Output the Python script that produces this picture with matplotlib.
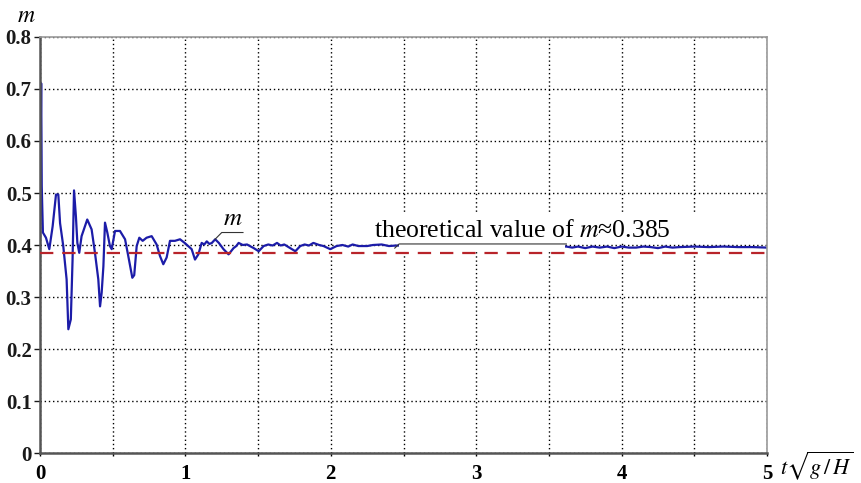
import matplotlib
matplotlib.use("Agg")
import matplotlib.pyplot as plt
from matplotlib.patches import Rectangle

t_vals = [0.000, 0.003, 0.008, 0.012, 0.020, 0.041, 0.064, 0.087, 0.110, 0.126,
          0.138, 0.160, 0.183, 0.195, 0.212, 0.224, 0.234, 0.247, 0.257, 0.270,
          0.286, 0.325, 0.355, 0.378, 0.401, 0.413, 0.424, 0.436, 0.447, 0.463,
          0.481, 0.493, 0.516, 0.550, 0.585, 0.607, 0.635, 0.648, 0.665, 0.683,
          0.706, 0.733, 0.768, 0.802, 0.825, 0.848, 0.871, 0.894, 0.928, 0.963,
          0.995, 1.043, 1.066, 1.089, 1.112, 1.130, 1.147, 1.165, 1.182, 1.205,
          1.230, 1.262, 1.297, 1.331, 1.350, 1.366, 1.395, 1.424, 1.450, 1.470,
          1.504, 1.538, 1.570, 1.600, 1.630, 1.655, 1.680, 1.721, 1.756, 1.790,
          1.820, 1.850, 1.880, 1.920, 1.950, 1.996, 2.040, 2.080, 2.120, 2.150,
          2.190, 2.250, 2.290, 2.350, 2.400, 2.450, 2.700, 3.000, 3.300, 3.620,
          3.660, 3.700, 3.750, 3.800, 3.850, 3.900, 3.950, 4.000, 4.050, 4.100,
          4.150, 4.200, 4.250, 4.300, 4.350, 4.400, 4.500, 4.600, 4.700, 4.800,
          4.900, 5.000]
m_vals = [0.379, 0.545, 0.711, 0.513, 0.424, 0.414, 0.392, 0.436, 0.497, 0.497,
          0.442, 0.398, 0.334, 0.238, 0.257, 0.372, 0.505, 0.455, 0.404, 0.385,
          0.417, 0.449, 0.430, 0.385, 0.334, 0.282, 0.308, 0.359, 0.443, 0.424,
          0.398, 0.392, 0.427, 0.427, 0.411, 0.379, 0.337, 0.342, 0.398, 0.414,
          0.408, 0.414, 0.417, 0.401, 0.379, 0.363, 0.376, 0.408, 0.408, 0.411,
          0.404, 0.392, 0.372, 0.382, 0.404, 0.401, 0.407, 0.402, 0.404, 0.411,
          0.404, 0.392, 0.382, 0.394, 0.398, 0.404, 0.400, 0.401, 0.397, 0.394,
          0.388, 0.398, 0.401, 0.399, 0.404, 0.399, 0.401, 0.394, 0.388, 0.398,
          0.401, 0.399, 0.404, 0.400, 0.398, 0.392, 0.398, 0.400, 0.397, 0.401,
          0.398, 0.398, 0.400, 0.401, 0.398, 0.399, 0.398, 0.397, 0.398, 0.397,
          0.395, 0.397, 0.394, 0.397, 0.395, 0.397, 0.394, 0.397, 0.395, 0.395,
          0.397, 0.396, 0.394, 0.397, 0.395, 0.396, 0.397, 0.396, 0.397, 0.396,
          0.396, 0.395]
m_theory = 0.385

x_ticks = [0, 1, 2, 3, 4, 5]
y_ticks = [0, 0.1, 0.2, 0.3, 0.4, 0.5, 0.6, 0.7, 0.8]
y_labels = ["0", "0.1", "0.2", "0.3", "0.4", "0.5", "0.6", "0.7", "0.8"]

plt.rcParams["font.family"] = "Liberation Serif"
plt.rcParams["mathtext.fontset"] = "stix"

fig = plt.figure(figsize=(8.62, 4.83), dpi=100)
ax = fig.add_axes([0.0464, 0.0621, 0.8434, 0.8613])

ax.plot(t_vals, m_vals, color="#1c1ca8", lw=1.6, zorder=2)
ax.axhline(m_theory, color="#b8242a", lw=1.6, dashes=(6, 4), zorder=5)

ax.set_xlim(0, 5)
ax.set_ylim(0, 0.8)
ax.set_xticks(x_ticks)
ax.set_xticks([0.5, 1.5, 2.5, 3.5, 4.5], minor=True)
ax.set_yticks(y_ticks)
ax.set_yticklabels(y_labels)

ax.grid(True, which="both", color="black", linestyle=(0, (1, 2)), lw=1.0)
ax.tick_params(axis="y", length=4, width=1, labelsize=15, pad=2, colors="#1a1a1a")
ax.tick_params(axis="x", which="both", length=2, width=1, labelsize=15, pad=6)
for lab in ax.get_yticklabels() + ax.get_xticklabels():
    lab.set_fontweight("bold")

for side in ["left", "bottom"]:
    ax.spines[side].set_color("#555555")
    ax.spines[side].set_linewidth(1.8)
for side in ["top", "right"]:
    ax.spines[side].set_color("#999999")
    ax.spines[side].set_linewidth(1.2)

# axis titles
fig.text(0.020, 0.965, "$m$", fontsize=17, fontweight="bold", va="center")
fig.text(0.905, 0.035, r"$t\sqrt{g\,/\,H}$", fontsize=16, va="center")

# label for the curve
ax.text(1.325, 0.428, "$m$", fontsize=18, ha="center", va="bottom", zorder=6)
ax.plot([1.204, 1.25, 1.396], [0.411, 0.424, 0.424], color="#333333", lw=0.8, zorder=6)

# theoretical value annotation with white box behind
ax.add_patch(Rectangle((2.47, 0.390), 1.14, 0.07, facecolor="white",
                       edgecolor="none", zorder=3))
ax.add_patch(Rectangle((2.30, 0.405), 2.45, 0.054, facecolor="white",
                       edgecolor="none", zorder=3))
ax.text(2.295, 0.427, "theoretical value of $m$\u22480.385", fontsize=18.5,
        ha="left", va="center", zorder=6)
ax.plot([2.44, 2.47, 3.62], [0.394, 0.402, 0.402], color="#333333", lw=0.8, zorder=6)

fig.savefig("out.png", dpi=100)
